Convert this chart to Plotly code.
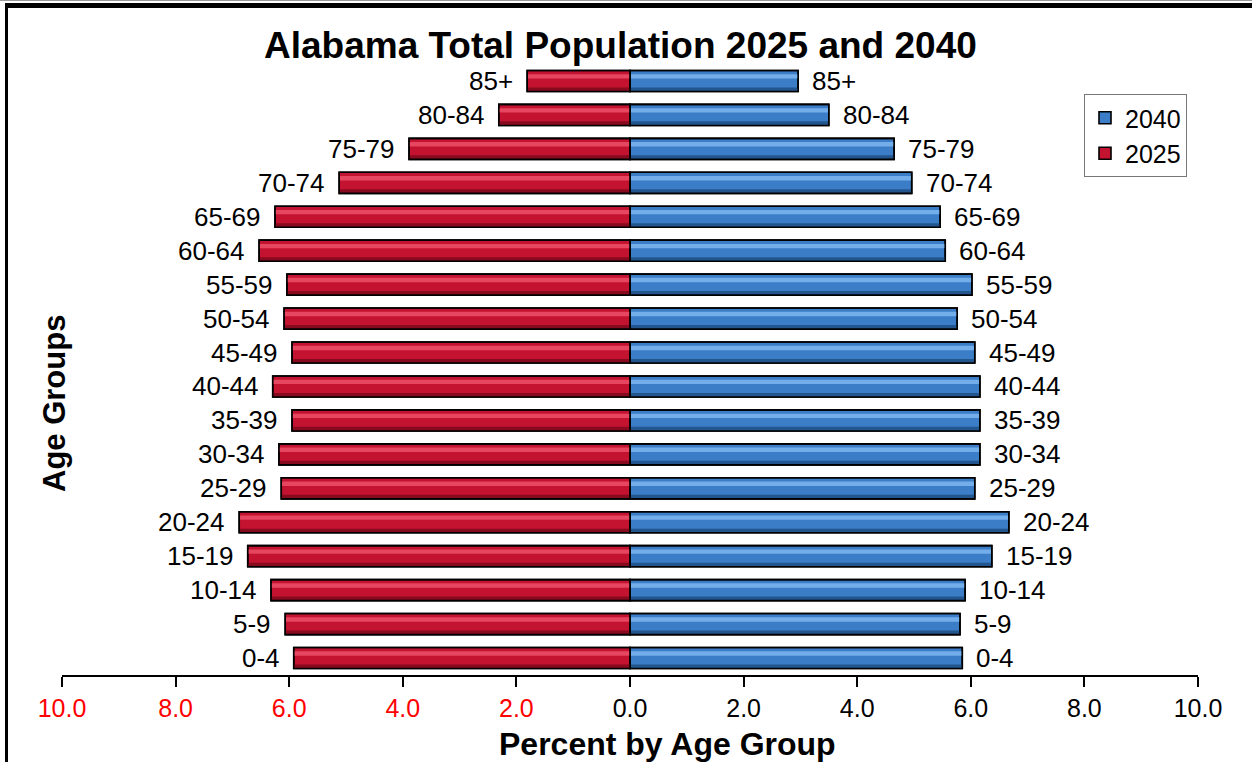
import plotly.graph_objects as go

# ---- data ----
age_groups = ["0-4", "5-9", "10-14", "15-19", "20-24", "25-29", "30-34", "35-39",
              "40-44", "45-49", "50-54", "55-59", "60-64", "65-69", "70-74",
              "75-79", "80-84", "85+"]
pct_2025 = [5.92, 6.07, 6.32, 6.73, 6.88, 6.14, 6.18, 5.95, 6.29, 5.95,
            6.09, 6.04, 6.53, 6.25, 5.12, 3.89, 2.31, 1.81]
pct_2040 = [5.85, 5.81, 5.90, 6.37, 6.67, 6.07, 6.16, 6.16, 6.16, 6.07,
            5.76, 6.02, 5.55, 5.46, 4.96, 4.65, 3.50, 2.96]
tick_vals = [-10, -8, -6, -4, -2, 0, 2, 4, 6, 8, 10]
tick_text = ["10.0", "8.0", "6.0", "4.0", "2.0", "0.0", "2.0", "4.0", "6.0", "8.0", "10.0"]

FONT = "Liberation Sans, Arial, sans-serif"
W, H = 1252, 762
ML, MR, MT, MB = 62, 54, 64, 87
PW, PH = W - ML - MR, H - MT - MB

def px_x(p):
    return (p - ML) / PW

def px_y(q):
    return (H - MB - q) / PH

neg_2025 = [-v for v in pct_2025]

fig = go.Figure()

BW = 0.62
series = [
    ("2040", pct_2040, "#3B7DC6", "#74AEEA", "#23568F"),
    ("2025", neg_2025, "#C31331", "#E6465F", "#880A1F"),
]
for name, vals, mid, light, dark in series:
    n = len(vals)
    fig.add_trace(go.Bar(
        x=vals, y=age_groups, orientation="h", name=name,
        width=[BW] * n, offset=[-BW / 2] * n,
        marker=dict(color=mid, line=dict(color="black", width=1.6)),
        showlegend=True, hoverinfo="skip",
    ))
    fig.add_trace(go.Bar(
        x=vals, y=age_groups, orientation="h", showlegend=False,
        width=[0.13] * n, offset=[0.07] * n,
        marker=dict(color=light, line=dict(width=0)), hoverinfo="skip",
    ))
    fig.add_trace(go.Bar(
        x=vals, y=age_groups, orientation="h", showlegend=False,
        width=[0.12] * n, offset=[-BW / 2] * n,
        marker=dict(color=dark, line=dict(width=0)), hoverinfo="skip",
    ))
    fig.add_trace(go.Bar(
        x=vals, y=age_groups, orientation="h", showlegend=False,
        width=[BW] * n, offset=[-BW / 2] * n,
        marker=dict(color="rgba(0,0,0,0)", line=dict(color="black", width=1.6)),
        hoverinfo="skip",
    ))

annotations = []
for g, v in zip(age_groups, pct_2025):
    annotations.append(dict(x=-v, y=g, xref="x", yref="y", text=g, showarrow=False,
                            xanchor="right", xshift=-12, font=dict(size=26, color="black", family=FONT)))
for g, v in zip(age_groups, pct_2040):
    annotations.append(dict(x=v, y=g, xref="x", yref="y", text=g, showarrow=False,
                            xanchor="left", xshift=12, font=dict(size=26, color="black", family=FONT)))

annotations.append(dict(x=px_x(620), y=px_y(46), xref="paper", yref="paper",
                        text="<b>Alabama Total Population 2025 and 2040</b>", showarrow=False,
                        xanchor="center", yanchor="middle",
                        font=dict(size=37, color="black", family=FONT)))
annotations.append(dict(x=px_x(667), y=px_y(744), xref="paper", yref="paper",
                        text="<b>Percent by Age Group</b>", showarrow=False,
                        xanchor="center", yanchor="middle",
                        font=dict(size=32, color="black", family=FONT)))
annotations.append(dict(x=px_x(54), y=px_y(404), xref="paper", yref="paper",
                        text="<b>Age Groups</b>", showarrow=False, textangle=-90,
                        xanchor="center", yanchor="middle",
                        font=dict(size=31, color="black", family=FONT)))

tick_labels = [("<span style='color:red'>%s</span>" % t) if v < 0 else t
               for v, t in zip(tick_vals, tick_text)]

shapes = [
    dict(type="line", xref="paper", yref="paper", x0=px_x(5), x1=px_x(1252),
         y0=px_y(5.5), y1=px_y(5.5), line=dict(color="black", width=5)),
    dict(type="line", xref="paper", yref="paper", x0=px_x(6.5), x1=px_x(6.5),
         y0=px_y(3), y1=px_y(762), line=dict(color="black", width=3)),
    dict(type="line", xref="paper", yref="paper", x0=px_x(0), x1=px_x(1252),
         y0=px_y(0.5), y1=px_y(0.5), line=dict(color="#999999", width=1)),
]

fig.update_layout(
    width=W, height=H,
    margin=dict(l=ML, r=MR, t=MT, b=MB, pad=0),
    paper_bgcolor="white", plot_bgcolor="white",
    barmode="overlay",
    font=dict(family=FONT, color="black"),
    xaxis=dict(range=[-10, 10], tickvals=tick_vals, ticktext=tick_labels,
               showgrid=False, zeroline=False, showline=True, linecolor="black", linewidth=1.5,
               ticks="outside", ticklen=10, tickwidth=1.5, tickcolor="black",
               tickfont=dict(size=25, color="black", family=FONT), fixedrange=True),
    yaxis=dict(type="category", categoryorder="array", categoryarray=age_groups,
               range=[-0.5, 17.5], showticklabels=False, showgrid=False, zeroline=False,
               showline=False, ticks="", fixedrange=True),
    legend=dict(x=px_x(1084), y=px_y(94), xanchor="left", yanchor="top",
                bordercolor="#777777", borderwidth=1, bgcolor="white",
                font=dict(size=25, color="black", family=FONT),
                itemwidth=30, tracegroupgap=0),
    annotations=annotations,
    shapes=shapes,
    showlegend=True,
)

fig.write_html("out.html", config={"displayModeBar": False})
